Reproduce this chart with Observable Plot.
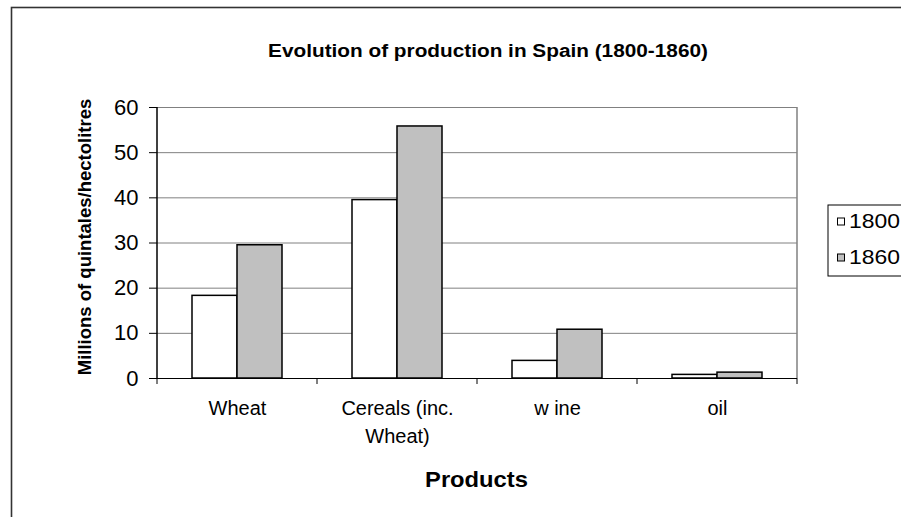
<!DOCTYPE html>
<html>
<head>
<meta charset="utf-8">
<script src="https://cdn.jsdelivr.net/npm/d3@7"></script>
<script src="https://cdn.jsdelivr.net/npm/@observablehq/plot@0.6"></script>
<style>
  html, body { margin: 0; padding: 0; background: white; }
  #chart { width: 901px; height: 517px; overflow: hidden; }
</style>
</head>
<body>
<div id="chart"></div>
<script>
const categories = ["Wheat", "Cereals (inc.\nWheat)", "w ine", "oil"];
const years = ["1800", "1860"];
const values1800 = [18.3, 39.5, 3.9, 0.8];
const values1860 = [29.5, 55.8, 10.8, 1.3];
const yTicks = [0, 10, 20, 30, 40, 50, 60];
const title = "Evolution of production in Spain (1800-1860)";
const yLabel = "Millions of quintales/hectolitres";
const xLabel = "Products";

const data = categories.flatMap((c, i) => [
  {category: c, year: years[0], value: values1800[i]},
  {category: c, year: years[1], value: values1860[i]}
]);

const font = "'Liberation Sans', Arial, sans-serif";

const chart = Plot.plot({
  width: 901,
  height: 517,
  marginLeft: 156,
  marginRight: 104,
  marginTop: 107,
  marginBottom: 139,
  style: {fontFamily: font, background: "white", color: "black"},
  fx: {domain: categories, paddingInner: 0, paddingOuter: 0, label: null, axis: null},
  x: {domain: years, paddingInner: 0, paddingOuter: 0.74, axis: null},
  y: {domain: [0, 60], axis: null},
  color: {domain: years, range: ["white", "#c0c0c0"]},
  marks: [
    Plot.gridY(yTicks, {stroke: "#808080", strokeOpacity: 1, strokeWidth: 1}),
    Plot.barY(data, {fx: "category", x: "year", y: "value", fill: "year", stroke: "black", strokeWidth: 1.5}),
    Plot.ruleY([0], {stroke: "black", strokeWidth: 1}),
    Plot.axisY(yTicks, {tickSize: 8, tickPadding: 11, fontSize: 22, tickFormat: d => String(d), label: null}),
    Plot.axisFx({anchor: "bottom", tickSize: 0, tickPadding: 17, fontSize: 20, lineHeight: 1.4, label: null})
  ]
});

document.getElementById("chart").appendChild(chart);

const svg = d3.select(chart);

function stretch(selection, s) {
  selection.each(function () {
    let x = parseFloat(this.getAttribute("x"));
    if (!isFinite(x)) x = 0;
    const t = this.getAttribute("transform") || "";
    this.setAttribute("transform", `${t} translate(${x},0) scale(${s},1) translate(${-x},0)`.trim());
  });
}

const fx = chart.scale("fx");
const y = chart.scale("y");
const y0 = y.apply(0), yTop = y.apply(60);
const left = fx.apply(categories[0]);
const right = fx.apply(categories[categories.length - 1]) + fx.bandwidth;

// plot area right border (gray) and y axis line (black)
svg.append("line").attr("x1", right).attr("x2", right).attr("y1", yTop).attr("y2", y0)
  .attr("stroke", "#808080").attr("stroke-width", 1.5);
svg.append("line").attr("x1", left).attr("x2", left).attr("y1", yTop).attr("y2", y0 + 0.5)
  .attr("stroke", "black").attr("stroke-width", 1.5);

// category boundary ticks
const bounds = categories.map(c => fx.apply(c)).concat([right]);
bounds.forEach(b => {
  svg.append("line").attr("x1", b).attr("x2", b).attr("y1", y0).attr("y2", y0 + 6)
    .attr("stroke", "black").attr("stroke-width", 1);
});

// outer chart frame
svg.append("rect").attr("x", 11.5).attr("y", 7.5).attr("width", 1000).attr("height", 1000)
  .attr("fill", "none").attr("stroke", "#333").attr("stroke-width", 1.6);

// title
const tt = svg.append("text").attr("x", 488).attr("y", 57).attr("text-anchor", "middle")
  .attr("font-family", font).attr("font-weight", "bold").attr("font-size", 19)
  .text(title);
stretch(tt, 440 / tt.node().getComputedTextLength());

// y label
svg.append("text").attr("transform", "translate(91,237) rotate(-90)").attr("text-anchor", "middle")
  .attr("font-family", font).attr("font-weight", "bold").attr("font-size", 18.5)
  .text(yLabel);

// x label
const xl = svg.append("text").attr("x", 476.5).attr("y", 487).attr("text-anchor", "middle")
  .attr("font-family", font).attr("font-weight", "bold").attr("font-size", 22)
  .text(xLabel);
stretch(xl, 103 / xl.node().getComputedTextLength());

// legend
const lg = svg.append("g");
lg.append("rect").attr("x", 828).attr("y", 205).attr("width", 120).attr("height", 71)
  .attr("fill", "white").attr("stroke", "black").attr("stroke-width", 1);
const color = chart.scale("color");
years.forEach((yr, i) => {
  const cy = 221.5 + i * 36;
  lg.append("rect").attr("x", 837.5).attr("y", cy - 3.5).attr("width", 7).attr("height", 7)
    .attr("fill", color.apply(yr)).attr("stroke", "black").attr("stroke-width", 1);
  const lt = lg.append("text").attr("x", 849).attr("y", cy + 7).attr("text-anchor", "start")
    .attr("font-family", font).attr("font-size", 21).text(yr);
  stretch(lt, 51 / lt.node().getComputedTextLength());
});
</script>
</body>
</html>
